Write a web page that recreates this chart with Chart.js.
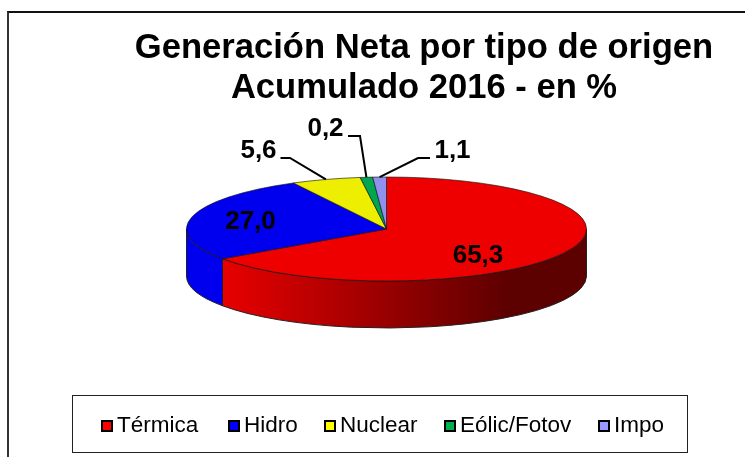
<!DOCTYPE html>
<html>

<head>
    <meta charset="utf-8">
    <title>Generación Neta por tipo de origen</title>
    <script src="https://cdn.jsdelivr.net/npm/chart.js@4/dist/chart.umd.js"></script>
    <style>
        html, body {
            margin: 0;
            width: 745px;
            height: 457px;
            overflow: hidden;
            background: white;
        }

        #frame {
            position: absolute;
            left: 7px;
            top: 11px;
            width: 800px;
            height: 600px;
            border-left: 2px solid #333;
            border-top: 2px solid #111;
        }

        #wrap {
            position: absolute;
            left: 0;
            top: 0;
            width: 745px;
            height: 457px;
        }

        #legend {
            position: absolute;
            left: 72px;
            top: 395px;
            width: 616px;
            height: 58px;
            border: 1.5px solid #222;
            box-sizing: border-box;
            font: 22.5px "Liberation Sans", Arial, sans-serif;
            color: black;
        }

        .item {
            position: absolute;
            top: 15px;
            line-height: 28px;
            white-space: nowrap;
        }

        .swatch {
            display: inline-block;
            width: 8px;
            height: 8px;
            border: 2px solid black;
            margin-right: 4px;
        }
    </style>
</head>

<body>
    <div id="frame"></div>
    <div id="wrap"><canvas id="pie" width="745" height="457"></canvas></div>
    <div id="legend"></div>

    <script>
        const titleLines = ['Generación Neta por tipo de origen', 'Acumulado 2016 - en %']
        const categories = ['Térmica', 'Hidro', 'Nuclear', 'Eólic/Fotov', 'Impo']
        // the green slice is drawn about 1% wide in the picture even though its label says 0,2
        const sliceValues = [65.3, 27.0, 5.6, 1.0, 1.1]
        const valueLabels = ['65,3', '27,0', '5,6', '0,2', '1,1']
        const topColors = ['#ee0000', '#0000ee', '#eeee00', '#00a650', '#9090ee']
        const legendColors = ['#ff0000', '#0000ff', '#ffff00', '#00b050', '#9999ff']
        const legendLefts = [28, 155, 251, 371, 525]

        const PIE_X = 386.5
        const PIE_Y = 229
        const RADIUS = 200
        const SQUASH = 0.26
        const DEPTH = 47

        // inner labels sit relative to the pie centre, outer ones have an elbow relative to it too
        const labelSpots = [
            { x: 91.5, y: 27 },
            { x: -136, y: -7 },
            { x: -128, y: -78, elbow: -96.5, end: -106 },
            { x: -61, y: -100, elbow: -26.5, end: -38.5 },
            { x: 66, y: -78, elbow: 31.5, end: 43.5 },
        ]

        function wall(ctx, arc, fill) {
            const from = Math.max(arc.startAngle, 0)
            const to = Math.min(arc.endAngle, Math.PI)
            if (to <= from) return
            const ry = RADIUS * SQUASH
            ctx.beginPath()
            ctx.ellipse(PIE_X, PIE_Y, RADIUS, ry, 0, from, to)
            ctx.ellipse(PIE_X, PIE_Y + DEPTH, RADIUS, ry, 0, to, from, true)
            ctx.closePath()
            ctx.fillStyle = fill
            ctx.fill()
            ctx.lineWidth = 1
            ctx.strokeStyle = '#222'
            ctx.stroke()
        }

        const flatPie = {
            id: 'flatPie',
            beforeDatasetsDraw(chart) {
                const ctx = chart.ctx
                const arcs = chart.getDatasetMeta(0).data
                const grad = ctx.createLinearGradient(222, 0, 510, 0)
                grad.addColorStop(0, '#e80000')
                grad.addColorStop(1, '#5c0000')
                arcs.forEach((arc, i) => wall(ctx, arc, i === 0 ? grad : topColors[i]))
                ctx.save()
                ctx.translate(PIE_X, PIE_Y)
                ctx.scale(1, SQUASH)
                ctx.translate(-arcs[0].x, -arcs[0].y)
            },
            afterDatasetsDraw(chart) {
                const ctx = chart.ctx
                ctx.restore()
                const arcs = chart.getDatasetMeta(0).data
                ctx.save()
                ctx.font = 'bold 26px "Liberation Sans", Arial, sans-serif'
                ctx.textAlign = 'center'
                ctx.textBaseline = 'middle'
                ctx.fillStyle = 'black'
                ctx.strokeStyle = 'black'
                ctx.lineWidth = 2
                arcs.forEach((arc, i) => {
                    const spot = labelSpots[i]
                    ctx.fillText(valueLabels[i], PIE_X + spot.x, PIE_Y + spot.y)
                    if (spot.elbow === undefined) return
                    const mid = (arc.startAngle + arc.endAngle) / 2
                    const rimX = PIE_X + RADIUS * Math.cos(mid)
                    const rimY = PIE_Y + RADIUS * SQUASH * Math.sin(mid)
                    const lineY = PIE_Y + spot.y + 7
                    ctx.beginPath()
                    ctx.moveTo(PIE_X + spot.end, lineY)
                    ctx.lineTo(PIE_X + spot.elbow, lineY)
                    ctx.lineTo(rimX, rimY)
                    ctx.stroke()
                })
                ctx.restore()
            },
        }

        new Chart(document.getElementById('pie'), {
            type: 'pie',
            data: {
                labels: categories,
                datasets: [{
                    data: sliceValues,
                    backgroundColor: topColors,
                    borderColor: '#111',
                    borderWidth: 1,
                    borderAlign: 'center',
                    clip: false,
                }],
            },
            options: {
                responsive: false,
                animation: false,
                radius: RADIUS,
                layout: { padding: { left: 103, top: 0, right: 0, bottom: 0 } },
                plugins: {
                    legend: { display: false },
                    tooltip: { enabled: false },
                    title: {
                        display: true,
                        text: titleLines,
                        color: 'black',
                        font: { family: '"Liberation Sans", Arial, sans-serif', size: 34.6, weight: 'bold', lineHeight: 1.156 },
                        padding: { top: 28, bottom: 0 },
                    },
                },
            },
            plugins: [flatPie],
        })

        const legendBox = document.getElementById('legend')
        categories.forEach((name, i) => {
            const item = document.createElement('div')
            item.className = 'item'
            item.style.left = legendLefts[i] + 'px'
            const swatch = document.createElement('span')
            swatch.className = 'swatch'
            swatch.style.background = legendColors[i]
            item.appendChild(swatch)
            item.appendChild(document.createTextNode(name))
            legendBox.appendChild(item)
        })
    </script>
</body>

</html>
